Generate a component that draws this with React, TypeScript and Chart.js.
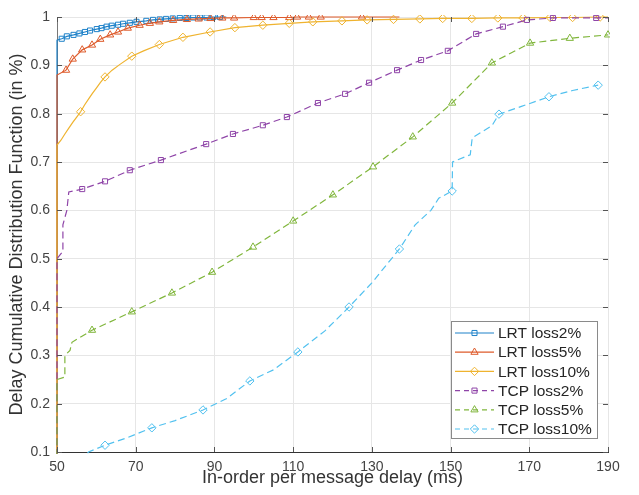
import React, { useEffect, useRef } from 'react';
import { Chart, registerables } from 'chart.js';

Chart.register(...registerables);

// ---- axis ticks ----
const xTicks = [50, 70, 90, 110, 130, 150, 170, 190];
const yTicks = [0.1, 0.2, 0.3, 0.4, 0.5, 0.6, 0.7, 0.8, 0.9, 1];

// ---- series names ----
const seriesNames = ['LRT loss2%', 'LRT loss5%', 'LRT loss10%', 'TCP loss2%', 'TCP loss5%', 'TCP loss10%'];

// ---- LRT loss2% ----
const lrt2X = [50, 50, 50.3, 51.2, 52.5, 54.2, 55.7, 57.1, 58.4, 60.1, 61.3, 62.6, 63.9, 65.5, 66.8, 68.5, 70.2, 72.7, 74.4, 76.1, 77.7, 79.4, 81.2, 82.9, 84.6, 86.3, 88, 89.7, 91.4, 93];
const lrt2Y = [0, 0.952, 0.953, 0.955, 0.96, 0.963, 0.966, 0.969, 0.972, 0.975, 0.977, 0.98, 0.982, 0.984, 0.986, 0.988, 0.99, 0.992, 0.994, 0.995, 0.996, 0.997, 0.998, 0.998, 0.999, 0.999, 0.999, 1, 1, 1];
const lrt2M = [0, 0, 0, 1, 1, 1, 1, 1, 1, 1, 1, 1, 1, 1, 1, 1, 1, 1, 1, 1, 1, 1, 1, 1, 1, 1, 1, 1, 1, 0];

// ---- LRT loss5% ----
const lrt5X = [50, 50, 52.3, 54, 56.4, 58.9, 61, 63.5, 65.5, 68, 71, 73.6, 76, 79.5, 83, 86, 89, 92, 95, 100, 102, 105, 109, 111, 114, 117, 127.5, 137];
const lrt5Y = [0, 0.88, 0.89, 0.913, 0.932, 0.942, 0.954, 0.963, 0.969, 0.977, 0.983, 0.987, 0.99, 0.993, 0.995, 0.996, 0.997, 0.998, 0.998, 0.999, 0.999, 0.999, 0.999, 1, 1, 1, 1, 1];
const lrt5M = [0, 0, 1, 1, 1, 1, 1, 1, 1, 1, 1, 1, 1, 1, 1, 1, 1, 1, 1, 1, 1, 1, 1, 1, 1, 1, 1, 0];

// ---- LRT loss10% ----
const lrt10X = [50, 50, 51, 52, 53, 54, 55, 56, 57, 58, 59, 60, 61, 62.2, 64, 66, 69, 72, 76, 82, 88.9, 95.2, 102.3, 109, 115, 122.4, 128.8, 135.5, 142.2, 148, 155.4, 162, 168.4, 175.3, 181, 188, 190];
const lrt10Y = [0, 0.735, 0.745, 0.758, 0.77, 0.782, 0.793, 0.804, 0.818, 0.83, 0.842, 0.853, 0.864, 0.876, 0.89, 0.902, 0.919, 0.93, 0.943, 0.958, 0.969, 0.978, 0.983, 0.987, 0.99, 0.992, 0.994, 0.995, 0.996, 0.997, 0.997, 0.998, 0.998, 0.999, 0.999, 1, 1];
const lrt10M = [0, 0, 0, 0, 0, 0, 0, 1, 0, 0, 0, 0, 0, 1, 0, 0, 1, 0, 1, 1, 1, 1, 1, 1, 1, 1, 1, 1, 1, 1, 1, 1, 1, 1, 1, 1, 0];

// ---- TCP loss2% ----
const tcp2X = [50, 50, 51.5, 51.5, 52.5, 53, 56.4, 62.2, 68.5, 76.4, 87.9, 94.7, 102.3, 108.4, 116.3, 123.2, 129.3, 136.4, 142.5, 149.3, 156.5, 163.3, 169.4, 176, 187, 190];
const tcp2Y = [0, 0.5, 0.515, 0.57, 0.6, 0.638, 0.644, 0.66, 0.683, 0.704, 0.737, 0.758, 0.776, 0.793, 0.822, 0.841, 0.864, 0.89, 0.911, 0.93, 0.965, 0.98, 0.994, 0.998, 0.998, 0.998];
const tcp2M = [0, 0, 0, 0, 0, 0, 1, 1, 1, 1, 1, 1, 1, 1, 1, 1, 1, 1, 1, 1, 1, 1, 1, 1, 1, 0];

// ---- TCP loss5% ----
const tcp5X = [50, 50, 52, 52, 53.3, 53.8, 58.9, 69, 79.2, 89.4, 99.8, 110, 120.1, 130.3, 140.4, 150.4, 160.5, 170.2, 180.3, 190];
const tcp5Y = [0, 0.25, 0.255, 0.3, 0.31, 0.327, 0.352, 0.39, 0.429, 0.472, 0.524, 0.578, 0.632, 0.69, 0.752, 0.822, 0.905, 0.946, 0.956, 0.963];
const tcp5M = [0, 0, 0, 0, 0, 0, 1, 1, 1, 1, 1, 1, 1, 1, 1, 1, 1, 1, 1, 1];

// ---- TCP loss10% ----
const tcp10X = [56, 58, 62.2, 68, 74.1, 80, 87.1, 93, 99, 105, 111.2, 118, 124.2, 130, 137, 141, 145, 147, 150.4, 150.5, 155, 155.5, 160.5, 162.3, 168, 175, 181, 187.5];
const tcp10Y = [0.08, 0.1, 0.114, 0.13, 0.15, 0.165, 0.187, 0.21, 0.247, 0.27, 0.307, 0.35, 0.4, 0.45, 0.52, 0.57, 0.6, 0.625, 0.64, 0.7, 0.715, 0.75, 0.775, 0.799, 0.815, 0.835, 0.848, 0.859];
const tcp10M = [0, 0, 1, 0, 1, 0, 1, 0, 1, 0, 1, 0, 1, 0, 1, 0, 0, 0, 1, 0, 0, 0, 0, 1, 0, 1, 0, 1];

const colors = ['#1f82c9', '#de5b2b', '#efb32f', '#8f45a8', '#80b63c', '#52c1ef'];
const markerStyles = ['rect', 'triangle', 'rectRot', 'rect', 'triangle', 'rectRot'];
const markerRadius = [3.6, 4.2, 4.2, 3.6, 4.2, 4.2];
const dashed = [false, false, false, true, true, true];

const seriesX = [lrt2X, lrt5X, lrt10X, tcp2X, tcp5X, tcp10X];
const seriesY = [lrt2Y, lrt5Y, lrt10Y, tcp2Y, tcp5Y, tcp10Y];
const seriesM = [lrt2M, lrt5M, lrt10M, tcp2M, tcp5M, tcp10M];

const FONT = '"Liberation Sans", Arial, Helvetica, sans-serif';
const DASH = [7, 4];

function drawMarker(ctx: CanvasRenderingContext2D, style: string, x: number, y: number, r: number) {
  ctx.beginPath();
  if (style === 'rect') {
    const s = Math.SQRT1_2 * r;
    ctx.rect(x - s, y - s, 2 * s, 2 * s);
  } else if (style === 'triangle') {
    for (let i = 0; i < 3; i++) {
      const a = -Math.PI / 2 + (i * 2 * Math.PI) / 3;
      const px = x + r * Math.cos(a);
      const py = y + r * Math.sin(a);
      if (i === 0) ctx.moveTo(px, py);
      else ctx.lineTo(px, py);
    }
    ctx.closePath();
  } else {
    ctx.moveTo(x, y - r);
    ctx.lineTo(x + r, y);
    ctx.lineTo(x, y + r);
    ctx.lineTo(x - r, y);
    ctx.closePath();
  }
  ctx.stroke();
}

const decorPlugin = {
  id: 'decor',
  afterDraw(chart: any) {
    const ctx: CanvasRenderingContext2D = chart.ctx;
    const { left, right, top, bottom } = chart.chartArea;
    const xs = chart.scales.x;
    const ys = chart.scales.y;
    ctx.save();
    // inward tick marks
    ctx.strokeStyle = '#555';
    ctx.lineWidth = 1;
    ctx.beginPath();
    xTicks.forEach((v) => {
      const px = Math.round(xs.getPixelForValue(v)) + 0.5;
      ctx.moveTo(px, bottom);
      ctx.lineTo(px, bottom - 5);
      ctx.moveTo(px, top);
      ctx.lineTo(px, top + 5);
    });
    yTicks.forEach((v) => {
      const py = Math.round(ys.getPixelForValue(v)) + 0.5;
      ctx.moveTo(left, py);
      ctx.lineTo(left + 5, py);
      ctx.moveTo(right, py);
      ctx.lineTo(right - 5, py);
    });
    ctx.stroke();

    // legend
    const bx = 451.5, by = 321.5, bw = 146, bh = 117;
    ctx.fillStyle = '#ffffff';
    ctx.fillRect(bx, by, bw, bh);
    ctx.strokeStyle = '#8a8a8a';
    ctx.lineWidth = 1;
    ctx.strokeRect(bx, by, bw, bh);
    ctx.font = `15.5px ${FONT}`;
    ctx.textBaseline = 'middle';
    ctx.textAlign = 'left';
    for (let i = 0; i < seriesNames.length; i++) {
      const cy = 333 + i * 19.2;
      ctx.strokeStyle = colors[i];
      ctx.lineWidth = 1.2;
      ctx.setLineDash(dashed[i] ? [5, 4] : []);
      ctx.beginPath();
      ctx.moveTo(455, cy);
      ctx.lineTo(494, cy);
      ctx.stroke();
      ctx.setLineDash([]);
      ctx.lineWidth = 1;
      drawMarker(ctx, markerStyles[i], 474.5, cy, markerRadius[i]);
      ctx.fillStyle = '#262626';
      ctx.fillText(seriesNames[i], 498, cy + 1);
    }
    ctx.restore();
  },
};

export default function App() {
  const ref = useRef<HTMLCanvasElement | null>(null);

  useEffect(() => {
    if (!ref.current) return;
    const n = seriesNames.length;
    const datasets = seriesNames.map((name, i) => {
      const marks = seriesM[i];
      return {
        label: name,
        data: seriesX[i].map((x, j) => ({ x, y: seriesY[i][j] })),
        showLine: true,
        borderColor: colors[i],
        backgroundColor: 'rgba(0,0,0,0)',
        borderWidth: 1.2,
        borderDash: dashed[i] ? DASH : [],
        pointStyle: markerStyles[i],
        pointRadius: (c: any) => (marks[c.dataIndex] ? markerRadius[i] : 0),
        pointBorderWidth: 1,
        pointBorderColor: colors[i],
        pointBackgroundColor: 'rgba(0,0,0,0)',
        pointHoverRadius: 0,
        tension: 0,
        order: n - i,
        clip: 2,
      };
    });

    const chart = new Chart(ref.current, {
      type: 'scatter',
      data: { datasets } as any,
      options: {
        animation: false,
        responsive: false,
        devicePixelRatio: 1,
        layout: { padding: { top: 17, right: 31, left: 0, bottom: 0 } },
        plugins: { legend: { display: false }, tooltip: { enabled: false } },
        scales: {
          x: {
            type: 'linear',
            min: 50,
            max: 190,
            afterBuildTicks: (s: any) => {
              s.ticks = xTicks.map((v) => ({ value: v }));
            },
            afterFit: (s: any) => {
              s.height = 43;
            },
            grid: { color: '#e6e6e6', drawTicks: false, lineWidth: 1 },
            border: { display: true, color: '#333', width: 1 },
            ticks: {
              padding: 7,
              color: '#444',
              font: { family: FONT, size: 14 },
              callback: (v: any) => String(v),
            },
            title: {
              display: true,
              text: 'In-order per message delay (ms)',
              color: '#333',
              font: { family: FONT, size: 18 },
              padding: { top: 0, bottom: 6 },
            },
          },
          y: {
            type: 'linear',
            min: 0.1,
            max: 1,
            afterBuildTicks: (s: any) => {
              s.ticks = yTicks.map((v) => ({ value: v }));
            },
            afterFit: (s: any) => {
              s.width = 57;
            },
            grid: { color: '#e6e6e6', drawTicks: false, lineWidth: 1 },
            border: { display: true, color: '#777', width: 1 },
            ticks: {
              padding: 7,
              color: '#444',
              font: { family: FONT, size: 14 },
              callback: (v: any) => (Math.abs(v - 1) < 1e-9 ? '1' : Number(v).toFixed(1)),
            },
            title: {
              display: true,
              text: 'Delay Cumulative Distribution Function (in %)',
              color: '#333',
              font: { family: FONT, size: 18 },
              padding: { top: 6, bottom: 0 },
            },
          },
        },
      } as any,
      plugins: [decorPlugin],
    });
    return () => chart.destroy();
  }, []);

  return (
    <div style={{ position: 'fixed', left: 0, top: 0, width: 639, height: 495, background: '#fff' }}>
      <canvas ref={ref} width={639} height={495} style={{ width: 639, height: 495, display: 'block' }} />
    </div>
  );
}
